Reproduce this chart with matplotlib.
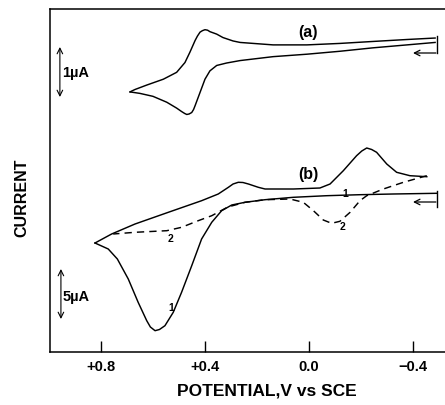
import matplotlib
matplotlib.use("Agg")
import matplotlib.pyplot as plt

plt.rcParams['font.family'] = ['Liberation Sans', 'DejaVu Sans']

# curve (a): potential (V vs SCE) and current (uA)
Ea_upper = [-0.485, -0.377, -0.246, -0.119, 0.008, 0.138, 0.265, 0.292, 0.331, 0.355, 0.381,
            0.390, 0.400, 0.410, 0.419, 0.429, 0.438, 0.458, 0.477, 0.509, 0.560, 0.624,
            0.669, 0.681, 0.688]
Ia_upper = [0.53, 0.50, 0.46, 0.42, 0.39, 0.39, 0.44, 0.47, 0.54, 0.61, 0.66,
            0.69, 0.70, 0.68, 0.65, 0.57, 0.48, 0.24, 0.03, -0.17, -0.31, -0.43,
            -0.52, -0.55, -0.57]
Ea_lower = [0.688, 0.675, 0.650, 0.600, 0.547, 0.509, 0.490, 0.478, 0.470, 0.461, 0.451,
            0.444, 0.438, 0.419, 0.400, 0.381, 0.355, 0.317, 0.265, 0.138, 0.008, -0.119,
            -0.246, -0.377, -0.485]
Ia_lower = [-0.57, -0.58, -0.60, -0.66, -0.78, -0.90, -0.97, -1.01, -1.03, -1.02, -0.99,
            -0.93, -0.85, -0.58, -0.31, -0.14, -0.03, 0.02, 0.07, 0.15, 0.20, 0.26,
            0.33, 0.39, 0.44]

# curve (b), scan 1 (solid)
Eb1_upper = [-0.453, -0.388, -0.337, -0.299, -0.260, -0.241, -0.222, -0.203, -0.183, -0.132,
             -0.081, -0.042, 0.060, 0.169, 0.195, 0.233, 0.254, 0.272, 0.292, 0.310, 0.349,
             0.413, 0.541, 0.669, 0.759, 0.823]
Ib1_upper = [7.23, 7.33, 7.67, 8.5, 9.67, 9.95, 10.1, 9.8, 9.33, 7.83,
             6.5, 6.1, 6.0, 6.0, 6.17, 6.5, 6.65, 6.67, 6.5, 6.17, 5.5,
             4.83, 3.67, 2.5, 1.5, 0.6]
Eb1_lower = [0.823, 0.772, 0.737, 0.695, 0.657, 0.624, 0.610, 0.592, 0.575, 0.554, 0.522,
             0.490, 0.451, 0.413, 0.374, 0.336, 0.297, 0.246, 0.169, 0.060, -0.068, -0.196,
             -0.324, -0.491]
Ib1_lower = [0.6, 0.0, -1.0, -3.0, -5.33, -7.17, -7.8, -8.17, -8.05, -7.67, -6.33,
             -4.33, -1.67, 1.0, 2.67, 3.83, 4.4, 4.67, 4.93, 5.17, 5.33, 5.43,
             5.5, 5.57]

# curve (b), scan 2 (dashed)
Eb2 = [-0.453, -0.363, -0.286, -0.222, -0.196, -0.158, -0.119, -0.087, -0.055, -0.017, 0.022,
       0.073, 0.169, 0.246, 0.312, 0.374, 0.426, 0.490, 0.547, 0.669, 0.753]
Ib2 = [7.33, 6.67, 6.0, 5.33, 4.83, 3.67, 2.77, 2.57, 2.9, 3.83, 4.67,
       5.0, 4.93, 4.67, 4.2, 3.33, 2.83, 2.17, 1.83, 1.67, 1.5]

xticks = [0.8, 0.4, 0.0, -0.4]
xticklabels = ['+0.8', '+0.4', '0.0', '\u22120.4']

# vertical placement of the two traces on the shared (arbitrary) current axis
off_a, scale_a = 28.8, 4.9
off_b, scale_b = 10.3, 1.0

fig = plt.figure(figsize=(4.45, 4.06), dpi=100)
ax = fig.add_axes([50 / 445, 53 / 406, 395 / 445, 343 / 406])

kw = dict(color='black', lw=1.05, solid_joinstyle='round', dash_joinstyle='round')
ax.plot(Ea_upper, [off_a + scale_a * v for v in Ia_upper], **kw)
ax.plot(Ea_lower, [off_a + scale_a * v for v in Ia_lower], **kw)
ax.plot(Eb1_upper, [off_b + scale_b * v for v in Ib1_upper], **kw)
ax.plot(Eb1_lower, [off_b + scale_b * v for v in Ib1_lower], **kw)
ax.plot(Eb2, [off_b + scale_b * v for v in Ib2], ls=(0, (5, 3.5)), **kw)

ax.set_xlim(0.996, -0.523)
ax.set_ylim(0, 34.3)

# start markers + scan direction arrows
ax.plot([-0.492, -0.492], [29.9, 31.6], color='black', lw=1)
ax.annotate('', xy=(-0.40, 29.9), xytext=(-0.488, 29.9),
            arrowprops=dict(arrowstyle='->', lw=0.9, color='black', shrinkA=0, shrinkB=0))
ax.plot([-0.492, -0.492], [14.5, 16.1], color='black', lw=1)
ax.annotate('', xy=(-0.40, 15.0), xytext=(-0.488, 15.0),
            arrowprops=dict(arrowstyle='->', lw=0.9, color='black', shrinkA=0, shrinkB=0))

# scale bars
ax.annotate('', xy=(0.958, 30.5), xytext=(0.958, 25.5),
            arrowprops=dict(arrowstyle='<->', lw=0.8, color='black', shrinkA=0, shrinkB=0))
ax.text(0.948, 28.0, '1\u00b5A', fontsize=10.5, fontweight='bold', va='center', ha='left')
ax.annotate('', xy=(0.954, 8.3), xytext=(0.954, 3.3),
            arrowprops=dict(arrowstyle='<->', lw=0.8, color='black', shrinkA=0, shrinkB=0))
ax.text(0.948, 5.6, '5\u00b5A', fontsize=10.5, fontweight='bold', va='center', ha='left')

# labels on the curves
ax.text(0.004, 32.1, '(a)', fontsize=11.5, fontweight='bold', ha='center', va='center')
ax.text(0.004, 17.8, '(b)', fontsize=11.5, fontweight='bold', ha='center', va='center')
ax.text(0.530, 4.5, '1', fontsize=7.5, fontweight='bold', ha='center', va='center')
ax.text(0.532, 11.4, '2', fontsize=7.5, fontweight='bold', ha='center', va='center')
ax.text(-0.140, 15.9, '1', fontsize=7.5, fontweight='bold', ha='center', va='center')
ax.text(-0.128, 12.6, '2', fontsize=7.5, fontweight='bold', ha='center', va='center')

ax.set_xticks(xticks)
ax.set_xticklabels(xticklabels, fontsize=10.5, fontweight='bold')
ax.tick_params(axis='x', direction='in', length=8, width=1, pad=5)
ax.set_yticks([])
ax.spines['right'].set_visible(False)
for s in ['left', 'bottom', 'top']:
    ax.spines[s].set_linewidth(1.1)

fig.text(267 / 445, 1 - 391 / 406, 'POTENTIAL,V vs SCE', fontsize=12.5, fontweight='bold',
         ha='center', va='center')
fig.text(22 / 445, 1 - 198 / 406, 'CURRENT', fontsize=11.5, fontweight='bold',
         ha='center', va='center', rotation=90)

fig.savefig('out.png', dpi=100)
